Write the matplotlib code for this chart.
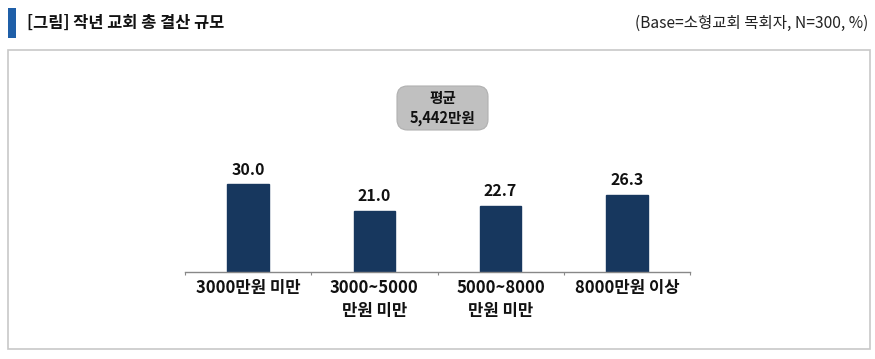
import matplotlib
matplotlib.use("Agg")
import matplotlib.pyplot as plt
from matplotlib.patches import Rectangle, FancyBboxPatch

plt.rcParams['font.family'] = ['Noto Sans CJK KR', 'DejaVu Sans']

categories = ["3000만원 미만", "3000~5000\n만원 미만", "5000~8000\n만원 미만", "8000만원 이상"]
values = [30.0, 21.0, 22.7, 26.3]
title = "[그림] 작년 교회 총 결산 규모"
note = "(Base=소형교회 목회자, N=300, %)"
avg_text = "평균\n5,442만원"

W, H = 875, 359
fig = plt.figure(figsize=(W / 100, H / 100), dpi=100)

def fx(px):
    return px / W

def fy(py):
    return 1 - py / H

# title marker
fig.patches.append(Rectangle((fx(8), fy(38)), fx(8), 30 / H, transform=fig.transFigure,
                             facecolor="#1f5fa8", edgecolor="none"))
fig.text(fx(27), fy(23), title, fontsize=11.8, fontweight="bold", va="center", ha="left", color="#111111")
fig.text(fx(868), fy(23), note, fontsize=11.2, va="center", ha="right", color="#222222")

# frame
fig.patches.append(Rectangle((fx(8), fy(349)), fx(862), 299 / H, transform=fig.transFigure,
                             facecolor="none", edgecolor="#c8c8c8", linewidth=1.2))

# axes
ax_left, ax_right = 185, 690
base_y = 271.7
ppu = (base_y - 184.3) / 30.0
ymax = 35
ax = fig.add_axes([fx(ax_left), fy(base_y), (ax_right - ax_left) / W, ymax * ppu / H])
x = list(range(len(values)))
bars = ax.bar(x, values, width=0.33, color="#17375e", edgecolor="#17375e")
ax.set_xlim(-0.5, len(values) - 0.5)
ax.set_ylim(0, ymax)
for i, v in enumerate(values):
    ax.text(i, v + 2.3, f"{v:.1f}", ha="center", va="bottom", fontsize=11.5, fontweight="bold", color="#111111")
for s in ["top", "right", "left"]:
    ax.spines[s].set_visible(False)
ax.spines["bottom"].set_color("#888888")
ax.spines["bottom"].set_linewidth(1.0)
ax.set_yticks([])
ax.set_xticks([i - 0.5 for i in range(len(values) + 1)], minor=False)
ax.set_xticklabels([])
ax.tick_params(axis="x", length=2, color="#888888", direction="out")
for i, c in enumerate(categories):
    ax.text(i, -2.4, c, ha="center", va="top", fontsize=12, fontweight="bold", color="#111111",
            linespacing=1.4)

# average box
bx0, by0, bw, bh = 397, 86, 91, 44
fig.patches.append(FancyBboxPatch((fx(bx0), fy(by0 + bh)), fx(bw), bh / H, transform=fig.transFigure,
                                  boxstyle="round,pad=0,rounding_size=0.012", facecolor="#c0c0c0",
                                  edgecolor="#b0b0b0", linewidth=0.8, mutation_aspect=W / H))
fig.text(fx(bx0 + bw / 2), fy(by0 + bh / 2), avg_text, ha="center", va="center", fontsize=10.5,
         fontweight="bold", color="#111111", linespacing=1.35)

fig.savefig("out.png", dpi=100, facecolor="white")
